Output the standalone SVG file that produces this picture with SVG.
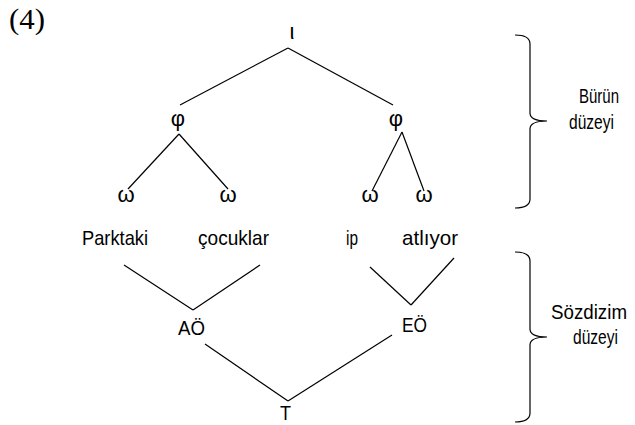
<svg xmlns="http://www.w3.org/2000/svg" width="635" height="425" viewBox="0 0 635 425">
  <style>
    .lbl { font-family: "Liberation Sans", Arial, sans-serif; font-size: 21px; fill: #000; }
    .sym { font-family: "Liberation Sans", Arial, sans-serif; font-size: 22px; fill: #000; text-anchor: middle; }
    .num { font-family: "Liberation Serif", "Times New Roman", serif; font-size: 30px; fill: #000; }
    .edge { stroke: #000; stroke-width: 1.2; fill: none; }
    .brace { stroke: #000; stroke-width: 1.2; fill: none; }
  </style>

  <rect width="635" height="425" fill="#fff"/>

  <text class="num" x="9" y="29" textLength="36" lengthAdjust="spacingAndGlyphs">(4)</text>

  <!-- connectors -->
  <g id="connectors">
    <!-- prosodic tree -->
    <line class="edge" x1="288" y1="48" x2="180" y2="105"/>
    <line class="edge" x1="288" y1="48" x2="393" y2="105"/>
    <line class="edge" x1="179" y1="134" x2="128" y2="189"/>
    <line class="edge" x1="179" y1="134" x2="228" y2="189"/>
    <line class="edge" x1="402" y1="132" x2="372" y2="191"/>
    <line class="edge" x1="402" y1="132" x2="424" y2="191"/>
    <!-- syntactic tree -->
    <line class="edge" x1="124" y1="265" x2="193" y2="310"/>
    <line class="edge" x1="260" y1="265" x2="193" y2="310"/>
    <line class="edge" x1="370" y1="267" x2="411" y2="305"/>
    <line class="edge" x1="454" y1="258" x2="411" y2="305"/>
    <line class="edge" x1="205" y1="344" x2="288" y2="401"/>
    <line class="edge" x1="392" y1="335" x2="288" y2="401"/>
  </g>

  <!-- prosodic nodes -->
  <g id="iota"><text class="sym" x="292" y="39">ι</text></g>
  <g id="phi-left"><text class="sym" x="178" y="126">φ</text></g>
  <g id="phi-right"><text class="sym" x="396" y="126">φ</text></g>
  <g id="omega-1"><text class="sym" x="126" y="202">ω</text></g>
  <g id="omega-2"><text class="sym" x="228" y="202">ω</text></g>
  <g id="omega-3"><text class="sym" x="370" y="202">ω</text></g>
  <g id="omega-4"><text class="sym" x="424" y="202">ω</text></g>

  <!-- words -->
  <g id="w-parktaki"><text class="lbl" x="82" y="245" textLength="66" lengthAdjust="spacingAndGlyphs">Parktaki</text></g>
  <g id="w-cocuklar"><text class="lbl" x="198" y="245" textLength="71" lengthAdjust="spacingAndGlyphs">çocuklar</text></g>
  <g id="w-ip"><text class="lbl" x="346" y="245" textLength="12" lengthAdjust="spacingAndGlyphs">ip</text></g>
  <g id="w-atliyor"><text class="lbl" x="402" y="245" textLength="56" lengthAdjust="spacingAndGlyphs">atlıyor</text></g>

  <!-- syntactic nodes -->
  <g id="ao"><text class="lbl" x="178" y="335" textLength="27" lengthAdjust="spacingAndGlyphs">AÖ</text></g>
  <g id="eo"><text class="lbl" x="402" y="332" textLength="25" lengthAdjust="spacingAndGlyphs">EÖ</text></g>
  <g id="t"><text class="lbl" x="280" y="420" textLength="11" lengthAdjust="spacingAndGlyphs">T</text></g>

  <!-- level braces -->
  <g id="brace-prosodic">
    <path class="brace" d="M515,35 Q530,35 530,44 L530,113 Q530,121 547,121 Q530,121 530,129 L530,199 Q530,208 515,208"/>
    <text class="lbl" x="579" y="103" textLength="40" lengthAdjust="spacingAndGlyphs">Bürün</text>
    <text class="lbl" x="569" y="129" textLength="45" lengthAdjust="spacingAndGlyphs">düzeyi</text>
  </g>
  <g id="brace-syntactic">
    <path class="brace" d="M515,252 Q530,252 530,261 L530,329 Q530,337 547,337 Q530,337 530,345 L530,413 Q530,422 515,422"/>
    <text class="lbl" x="551" y="319" textLength="76" lengthAdjust="spacingAndGlyphs">Sözdizim</text>
    <text class="lbl" x="573" y="344" textLength="45" lengthAdjust="spacingAndGlyphs">düzeyi</text>
  </g>
</svg>
